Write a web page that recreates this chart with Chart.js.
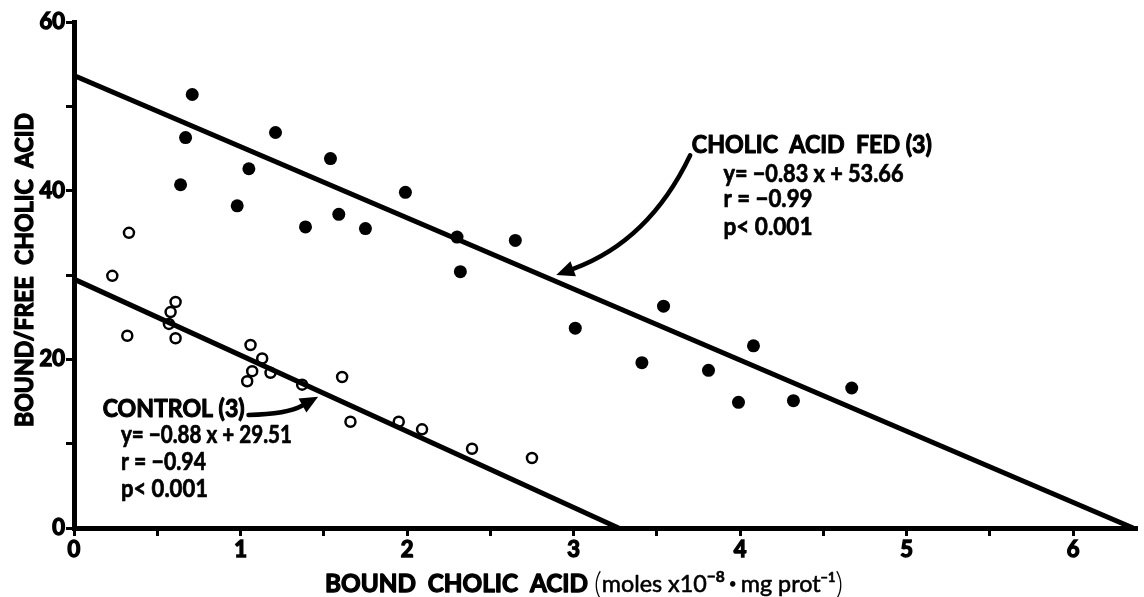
<!DOCTYPE html>
<html>
<head>
<meta charset="utf-8">
<script src="https://cdn.jsdelivr.net/npm/chart.js@4.4.1/dist/chart.umd.min.js"></script>
<style>
  html, body { margin: 0; padding: 0; background: #fff; }
  #wrap { width: 1144px; height: 597px; }
</style>
</head>
<body>
<div id="wrap"><canvas id="chart" width="1144" height="597"></canvas></div>
<script>
// points (x: bound cholic acid, y: bound/free)
const fedX = [0.71, 0.67, 1.21, 0.64, 1.05, 0.98, 1.54, 1.39, 1.59, 1.75, 1.99, 2.30, 2.65, 2.32, 3.01, 3.54, 3.41, 3.81, 4.08, 3.99, 4.32, 4.67];
const fedY = [51.4, 46.3, 46.9, 40.7, 42.6, 38.2, 43.8, 35.7, 37.2, 35.5, 39.8, 34.5, 34.1, 30.4, 23.7, 26.3, 19.6, 18.7, 21.6, 14.9, 15.1, 16.6];
const controlX = [0.23, 0.33, 0.32, 0.61, 0.58, 0.57, 0.61, 1.06, 1.13, 1.07, 1.04, 1.18, 1.37, 1.61, 1.66, 1.95, 2.09, 2.39, 2.75];
const controlY = [29.9, 35.0, 22.8, 26.8, 25.6, 24.2, 22.5, 21.7, 20.1, 18.6, 17.4, 18.4, 17.0, 17.9, 12.6, 12.6, 11.7, 9.4, 8.3];

// regression lines as drawn (end points)
const fedLineX = [0, 6.36];
const fedLineY = [53.66, 0];
const controlLineX = [0, 3.27];
const controlLineY = [29.51, 0];

const xMin = 0, xMax = 6.38, xStep = 0.5;
const yMin = 0, yMax = 60, yStep = 10;
const xLabelTicks = [0, 1, 2, 3, 4, 5, 6];
const yLabelTicks = [0, 20, 40, 60];

const toPoints = (xs, ys) => xs.map((v, i) => ({ x: v, y: ys[i] }));

// annotation text, placed in data units
const notes = [
  { text: 'CHOLIC  ACID  FED (3)', x: 3.71, y: 44.5, w: 240, font: 'bold 24px Lato', stroke: 1.1 },
  { text: 'y= −0.83 x + 53.66', x: 3.90, y: 41.07, w: 180, font: 'bold 24px Lato', stroke: 0.7 },
  { text: 'r = −0.99', x: 3.90, y: 38.03, w: 89, font: 'bold 24px Lato', stroke: 0.7 },
  { text: 'p< 0.001', x: 3.90, y: 34.74, w: 89, font: 'bold 24px Lato', stroke: 0.7 },
  { text: 'CONTROL (3)', x: 0.172, y: 13.2, w: 142, font: 'bold 24px Lato', stroke: 1.1 },
  { text: 'y= −0.88 x + 29.51', x: 0.282, y: 10.04, w: 171, font: 'bold 24px Lato', stroke: 0.7 },
  { text: 'r = −0.94', x: 0.282, y: 6.88, w: 85, font: 'bold 24px Lato', stroke: 0.7 },
  { text: 'p< 0.001', x: 0.282, y: 3.71, w: 87, font: 'bold 24px Lato', stroke: 0.7 }
];

// curved arrows: start, bezier control, tip (data units)
const arrows = [
  { from: [3.70, 44.2], ctrl: [3.454, 34.03], to: [2.896, 30.0] },
  { from: [1.048, 13.4], ctrl: [1.28, 13.5], to: [1.466, 15.57] }
];

function fitText(ctx, text, px, py, w, stroke) {
  const natural = ctx.measureText(text).width;
  ctx.save();
  ctx.translate(px, py);
  ctx.scale(w / natural, 1);
  ctx.fillText(text, 0, 0);
  if (stroke) {
    ctx.lineWidth = stroke;
    ctx.lineJoin = 'round';
    ctx.strokeText(text, 0, 0);
  }
  ctx.restore();
}

const notesPlugin = {
  id: 'notes',
  afterDraw(chart) {
    const { ctx, scales: { x, y } } = chart;
    ctx.save();
    ctx.fillStyle = '#000';
    ctx.strokeStyle = '#000';
    ctx.textAlign = 'left';
    ctx.textBaseline = 'alphabetic';

    notes.forEach(n => {
      ctx.font = n.font;
      fitText(ctx, n.text, x.getPixelForValue(n.x), y.getPixelForValue(n.y), n.w, n.stroke);
    });

    arrows.forEach(a => {
      const p0 = [x.getPixelForValue(a.from[0]), y.getPixelForValue(a.from[1])];
      const c = [x.getPixelForValue(a.ctrl[0]), y.getPixelForValue(a.ctrl[1])];
      const p1 = [x.getPixelForValue(a.to[0]), y.getPixelForValue(a.to[1])];
      const ang = Math.atan2(p1[1] - c[1], p1[0] - c[0]);
      const headLen = 18, headW = 8;
      const bx = p1[0] - headLen * Math.cos(ang), by = p1[1] - headLen * Math.sin(ang);
      ctx.lineWidth = 4.5;
      ctx.lineCap = 'round';
      ctx.beginPath();
      ctx.moveTo(p0[0], p0[1]);
      ctx.quadraticCurveTo(c[0], c[1], bx, by);
      ctx.stroke();
      ctx.beginPath();
      ctx.moveTo(p1[0], p1[1]);
      ctx.lineTo(bx + headW * Math.sin(ang), by - headW * Math.cos(ang));
      ctx.lineTo(bx - headW * Math.sin(ang), by + headW * Math.cos(ang));
      ctx.closePath();
      ctx.fill();
    });

    // y axis title
    ctx.save();
    ctx.translate(33, 270);
    ctx.rotate(-Math.PI / 2);
    ctx.font = 'bold 25px Lato';
    fitText(ctx, 'BOUND/FREE  CHOLIC  ACID', -157, 0, 314, 1.3);
    ctx.restore();

    // x axis title, mixed weights with superscripts
    const parts = [
      { t: 'BOUND  CHOLIC  ACID ', f: 'bold 25px Lato', dy: 0, s: 1.3 },
      { t: '(', f: '300 31px Lato', dy: 3, s: 0 },
      { t: 'moles x10', f: '24px Lato', dy: 0, s: 0.6 },
      { t: '−8', f: 'bold 16px Lato', dy: -10, s: 0.6 },
      { t: ' • ', f: '15px Lato', dy: -3, s: 0 },
      { t: 'mg prot', f: '24px Lato', dy: 0, s: 0.6 },
      { t: '−1', f: 'bold 13px Lato', dy: -10, s: 0.6 },
      { t: ')', f: '300 31px Lato', dy: 3, s: 0 }
    ];
    let natural = 0;
    parts.forEach(p => { ctx.font = p.f; natural += ctx.measureText(p.t).width; });
    const target = 518;
    const sx = target / natural;
    ctx.save();
    ctx.translate(325, 592);
    ctx.scale(sx, 1);
    ctx.lineJoin = 'round';
    let cx = 0;
    parts.forEach(p => {
      ctx.font = p.f;
      ctx.fillText(p.t, cx, p.dy);
      if (p.s) { ctx.lineWidth = p.s; ctx.strokeText(p.t, cx, p.dy); }
      cx += ctx.measureText(p.t).width;
    });
    ctx.restore();

    ctx.restore();
  }
};

const tickFont = { family: 'Lato', size: 22, weight: 'bold' };

new Chart(document.getElementById('chart').getContext('2d'), {
  type: 'scatter',
  data: {
    datasets: [
      {
        label: 'Cholic acid fed',
        data: toPoints(fedX, fedY),
        pointRadius: 6.5,
        pointBackgroundColor: '#000',
        pointBorderWidth: 0,
        order: 1
      },
      {
        label: 'Control',
        data: toPoints(controlX, controlY),
        pointRadius: 5,
        pointBackgroundColor: 'rgba(0,0,0,0)',
        pointBorderColor: '#000',
        pointBorderWidth: 2.5,
        order: 1
      },
      {
        label: 'Fed fit',
        data: toPoints(fedLineX, fedLineY),
        showLine: true,
        borderColor: '#000',
        borderWidth: 5,
        pointRadius: 0,
        order: 2
      },
      {
        label: 'Control fit',
        data: toPoints(controlLineX, controlLineY),
        showLine: true,
        borderColor: '#000',
        borderWidth: 5,
        pointRadius: 0,
        order: 2
      }
    ]
  },
  options: {
    responsive: false,
    animation: false,
    layout: { padding: { top: 22, right: 0, bottom: 0, left: 0 } },
    plugins: {
      legend: { display: false },
      tooltip: { enabled: false }
    },
    scales: {
      x: {
        type: 'linear',
        min: xMin,
        max: xMax,
        afterFit: s => { s.height = 69; },
        ticks: {
          stepSize: xStep,
          includeBounds: false,
          color: '#000',
          font: tickFont,
          textStrokeColor: '#000',
          textStrokeWidth: 1.4,
          padding: 1,
          maxRotation: 0,
          autoSkip: false,
          callback: v => xLabelTicks.includes(v) ? String(v) : ''
        },
        grid: { drawOnChartArea: false, drawTicks: true, tickLength: 8, lineWidth: 3, color: '#000' },
        border: { display: true, width: 5, color: '#000' }
      },
      y: {
        type: 'linear',
        min: yMin,
        max: yMax,
        afterFit: s => { s.width = 74; },
        ticks: {
          stepSize: yStep,
          color: '#000',
          font: tickFont,
          textStrokeColor: '#000',
          textStrokeWidth: 1.4,
          padding: 1,
          autoSkip: false,
          callback: v => yLabelTicks.includes(v) ? String(v) : ''
        },
        grid: { drawOnChartArea: false, drawTicks: true, tickLength: 8, lineWidth: 3, color: '#000' },
        border: { display: true, width: 5, color: '#000' }
      }
    }
  },
  plugins: [notesPlugin]
});
</script>
</body>
</html>
